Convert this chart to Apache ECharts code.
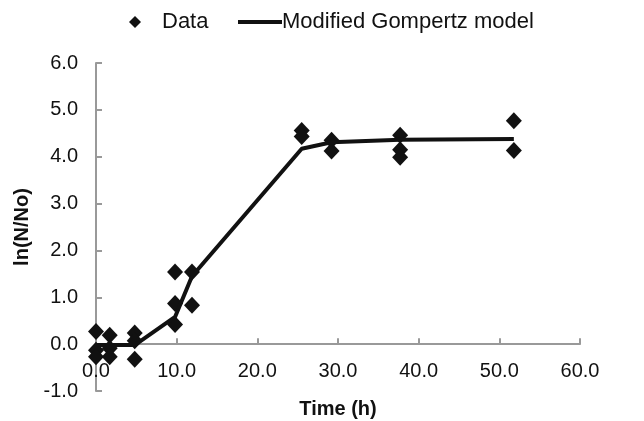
<!DOCTYPE html>
<html>
<head>
<meta charset="utf-8">
<script src="https://cdn.jsdelivr.net/npm/echarts@6/dist/echarts.min.js"></script>
<style>
html,body{margin:0;padding:0;background:#fff;}
#chart{width:644px;height:421px;}
</style>
</head>
<body>
<div id="chart"></div>
<script>
// Observed data (time in h, ln(N/No))
const dataTimes  = [0, 0, 0, 1.7, 1.7, 1.7, 4.8, 4.8, 4.8, 9.8, 9.8, 9.8, 11.9, 11.9, 25.5, 25.5, 29.2, 29.2, 37.7, 37.7, 37.7, 51.8, 51.8];
const dataValues = [0.27, -0.13, -0.27, 0.19, -0.09, -0.27, 0.24, 0.07, -0.32, 1.54, 0.87, 0.42, 1.54, 0.83, 4.56, 4.43, 4.35, 4.12, 4.46, 4.15, 3.99, 4.77, 4.13];
// Modified Gompertz model curve
const modelTimes  = [0, 1.7, 4.8, 9.8, 11.9, 25.5, 29.2, 37.7, 51.8];
const modelValues = [-0.02, -0.02, -0.02, 0.58, 1.45, 4.17, 4.31, 4.36, 4.38];

const FONT = '"Liberation Sans", Arial, sans-serif';
const chart = echarts.init(document.getElementById('chart'), null, {renderer: 'canvas'});
chart.setOption({
  animation: false,
  backgroundColor: '#ffffff',
  textStyle: {fontFamily: FONT},
  legend: [
    {
      data: ['Data'],
      left: 129, top: 11, padding: 0,
      icon: 'diamond',
      itemWidth: 12, itemHeight: 12,
      textStyle: {fontSize: 22, color: '#111', fontFamily: FONT, padding: [0, 0, 0, 16]}
    },
    {
      data: [{name: 'Modified Gompertz model', icon: 'rect'}],
      left: 238, top: 11, padding: 0,
      itemWidth: 44, itemHeight: 4,
      textStyle: {fontSize: 22, color: '#111', fontFamily: FONT, padding: [0, 0, 0, -5]}
    }
  ],
  grid: {left: 96, right: 64, top: 63, bottom: 30, containLabel: false, outerBoundsMode: 'none'},
  xAxis: {
    type: 'value', min: 0, max: 60, interval: 10,
    name: 'Time (h)', nameLocation: 'middle', nameGap: 55,
    nameTextStyle: {fontSize: 20, fontWeight: 'bold', color: '#111', fontFamily: FONT},
    axisLine: {onZero: false, lineStyle: {color: '#999', width: 2}},
    axisTick: {show: true, inside: true, length: 6, lineStyle: {color: '#999', width: 2}},
    axisLabel: {fontSize: 20, color: '#111', margin: 17, fontFamily: FONT, formatter: v => v.toFixed(1)},
    splitLine: {show: false}
  },
  yAxis: {
    type: 'value', min: -1, max: 6, interval: 1,
    name: 'ln(N/No)', nameLocation: 'middle', nameGap: 63, nameRotate: 90,
    nameTextStyle: {fontSize: 20, fontWeight: 'bold', color: '#111', fontFamily: FONT},
    axisLine: {show: true, onZero: false, lineStyle: {color: '#999', width: 2}},
    axisTick: {show: true, inside: true, length: 6, lineStyle: {color: '#999', width: 2}},
    axisLabel: {fontSize: 20, color: '#111', margin: 18, fontFamily: FONT, formatter: v => v.toFixed(1)},
    splitLine: {show: false}
  },
  series: [
    {
      name: 'Data', type: 'scatter',
      symbol: 'diamond', symbolSize: [16, 17],
      itemStyle: {color: '#111', opacity: 1},
      data: dataTimes.map((t, i) => [t, dataValues[i]]),
      z: 3
    },
    {
      name: 'Modified Gompertz model', type: 'line',
      symbol: 'none', showSymbol: false,
      lineStyle: {color: '#111', width: 4},
      itemStyle: {color: '#111'},
      data: modelTimes.map((t, i) => [t, modelValues[i]]),
      z: 4
    }
  ]
});
// Move the x axis (line, ticks, labels, name) up to y = 0 using the library's own scale
const yZero = chart.convertToPixel({yAxisIndex: 0}, 0);
const yMin = chart.convertToPixel({yAxisIndex: 0}, -1);
chart.setOption({xAxis: {offset: yZero - yMin}});
</script>
</body>
</html>
